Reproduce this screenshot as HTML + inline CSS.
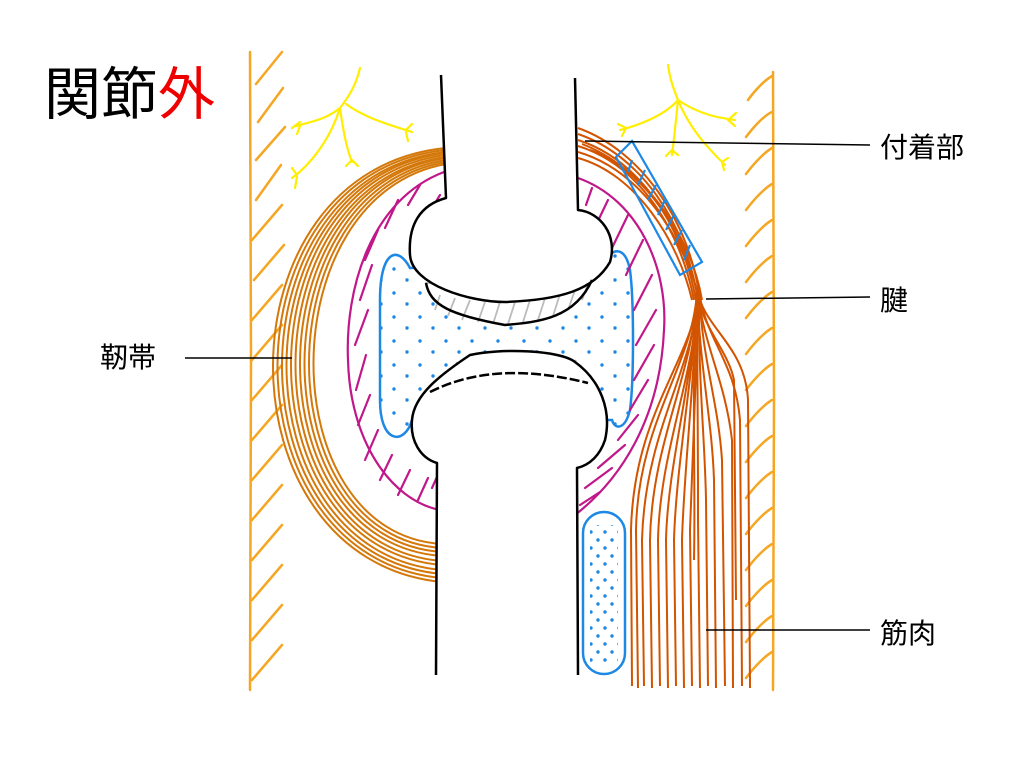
<!DOCTYPE html>
<html><head><meta charset="utf-8"><style>
html,body{margin:0;padding:0;background:#fff;width:1024px;height:768px;overflow:hidden}
svg{display:block}
text{font-family:"Liberation Sans","Noto Sans CJK JP",sans-serif}
</style></head><body>
<svg width="1024" height="768" viewBox="0 0 1024 768" xmlns="http://www.w3.org/2000/svg">
<defs>
<pattern id="dots" width="26" height="24" patternUnits="userSpaceOnUse">
<circle cx="4" cy="5" r="1.7" fill="#1e88e5"/><circle cx="17" cy="16" r="1.7" fill="#1e88e5"/>
</pattern>
<pattern id="dots2" width="14" height="16" patternUnits="userSpaceOnUse">
<circle cx="3" cy="4" r="1.7" fill="#1e88e5"/><circle cx="10" cy="12" r="1.7" fill="#1e88e5"/>
</pattern>
</defs>

<text x="44" y="114" font-size="57" fill="#000">関節<tspan fill="#e00">外</tspan></text>

<!-- walls -->
<g stroke="#f5a623" stroke-width="2.5" fill="none" stroke-linecap="round">
<path d="M250 52 L251 360 L250 690"/>
<path d="M773 72 L774 400 L773 690"/>
<path d="M256 84 L282 52 M258 122 L283 88 M256 160 L285 127 M256 200 L281 165 M252 240 L282 205 M254 280 L284 245 M252 320 L282 285 M252 360 L282 325 M252 400 L282 365 M252 440 L282 405 M252 480 L282 445 M252 520 L282 485 M252 560 L282 525 M252 600 L282 565 M252 640 L282 605 M252 680 L282 645"/>
<path d="M748 100 C755 90 765 80 772 76 M746 137 C755 125 765 115 772 112 M746 174 C755 162 765 152 772 148 M746 210 C755 198 765 188 772 184 M746 246 C755 234 765 224 772 220 M746 282 C755 270 765 260 772 256 M746 318 C755 306 765 296 772 292 M746 354 C755 342 765 332 772 328 M746 390 C755 378 765 368 772 364 M746 426 C755 414 765 404 772 400 M746 462 C755 450 765 440 772 436 M746 498 C755 486 765 476 772 472 M746 534 C755 522 765 512 772 508 M746 570 C755 558 765 548 772 544 M746 606 C755 594 765 584 772 580 M746 642 C755 630 765 620 772 616 M746 678 C755 666 765 656 772 652"/>
</g>

<!-- nerves -->
<g stroke="#ffee00" stroke-width="2.2" fill="none" stroke-linecap="round">
<path d="M360 68 C356 85 350 95 340 108 M340 108 C325 120 310 122 296 126 M300 122 L292 128 M300 126 L297 134 M346 104 C365 118 390 125 412 132 M406 130 L412 124 M406 132 L408 141 M340 108 C330 140 310 165 292 178 M297 175 L292 168 M297 177 L295 188 M340 108 C343 130 347 150 352 162 M352 160 L346 166 M352 160 L358 166"/>
<path d="M668 65 C670 80 674 90 678 100 M678 100 C665 115 640 125 620 130 M626 128 L618 124 M626 128 L622 136 M678 100 C700 115 720 118 735 120 M728 120 L736 113 M728 120 L735 126 M678 100 C676 120 674 140 672 155 M672 150 L666 156 M672 150 L678 155 M678 100 C690 130 710 150 725 165 M722 162 L728 158 M722 162 L724 170"/>
</g>

<!-- ligament -->
<g stroke="#d4780a" stroke-width="2" fill="none">
<path d="M446 148 C216 170 216 560 442 582"/>
<path d="M446 150 C222 172 222 558 442 578"/>
<path d="M446 152 C228 175 228 555 442 574"/>
<path d="M446 153 C234 178 234 552 442 570"/>
<path d="M446 155 C240 180 240 549 442 565"/>
<path d="M446 157 C246 183 246 546 442 561"/>
<path d="M446 158 C252 186 252 543 442 556"/>
<path d="M446 160 C258 189 258 540 442 552"/>
<path d="M446 162 C264 192 264 537 442 548"/>
<path d="M446 164 C270 195 270 534 442 544"/>
</g>

<!-- synovial -->
<path d="M410 268 C398 245 380 250 380 300 L380 400 C380 445 405 445 412 420 L612 420 C615 430 625 430 630 410 C634 380 634 300 630 270 C625 245 612 248 604 262 Z" fill="#fff" stroke="#1e88e5" stroke-width="2.5"/>
<path d="M410 268 C398 245 380 250 380 300 L380 400 C380 445 405 445 412 420 L612 420 C615 430 625 430 630 410 C634 380 634 300 630 270 C625 245 612 248 604 262 Z" fill="url(#dots)"/>

<!-- capsules -->
<g stroke="#c0188a" stroke-width="2.2" fill="none" stroke-linecap="round">
<path d="M444 172 C370 200 345 290 348 360 C350 440 390 500 440 510"/>
<path d="M578 178 C640 200 668 270 664 330 C660 420 620 480 575 515"/>
<path d="M420 185 L408 205 M398 200 L385 228 M378 230 L365 260 M372 265 L360 300 M368 310 L355 345 M366 355 L356 390 M370 395 L358 425 M378 430 L365 460 M392 455 L380 480 M410 470 L398 495 M428 478 L418 500 M440 470 L432 488 M440 195 L428 215"/>
<path d="M592 188 L586 205 M608 200 L596 225 M628 215 L612 248 M643 240 L626 275 M652 275 L634 310 M656 310 L636 345 M654 345 L634 380 M648 380 L630 410 M638 415 L618 440 M625 445 L598 468 M612 468 L585 488 M600 492 L580 505"/>
</g>

<!-- cartilage -->
<g stroke="#bbb" stroke-width="1.8" fill="none">
<path d="M426 283 C430 305 450 315 505 325 C540 322 575 318 592 280 Z" fill="#fff"/>
<path d="M440 295 L435 310 M455 298 L448 316 M470 300 L462 320 M485 302 L478 322 M500 302 L493 324 M515 302 L508 324 M530 300 L523 322 M545 298 L538 320 M560 294 L553 316 M575 290 L568 310 M588 284 L582 300"/>
<path d="M432 388 C470 350 520 348 590 385 C560 372 520 368 432 388 Z" fill="#fff"/>
<path d="M450 378 L457 362 M465 372 L472 356 M480 368 L487 352 M495 365 L502 350 M510 364 L517 350 M525 364 L532 350 M540 365 L547 352 M555 367 L562 355 M570 372 L576 360"/>
</g>

<!-- bones -->
<g stroke="#000" stroke-width="2.5" fill="#fff" stroke-linejoin="round">
<path d="M441 75 L446 198 C420 205 408 225 410 255 C412 285 470 302 505 302 C560 300 594 290 610 262 C618 235 600 212 578 210 L575 78" />
<path d="M426 283 C430 305 450 315 505 325 C540 322 575 318 592 280" fill="none"/>
<path d="M436 675 L437 463 C420 458 410 440 412 420 C414 395 440 375 470 355 C500 348 560 350 575 362 C600 380 612 410 605 440 C600 455 590 465 577 468 L578 675"/>
<path d="M430 392 C470 372 520 366 588 383" fill="none" stroke-dasharray="10 3"/>
</g>

<!-- tendon -->
<g stroke="#d35400" stroke-width="2" fill="none">
<path d="M578 128 C640 150 690 220 700 300"/>
<path d="M578 134 C640 155 686 222 698 300"/>
<path d="M578 140 C640 160 682 225 696 300"/>
<path d="M578 146 C640 165 680 230 694 300"/>
<path d="M578 152 C640 170 682 235 700 300"/>
<path d="M578 158 C636 174 678 240 692 300"/>
<path d="M582 144 C640 166 690 230 702 300"/>
<path d="M590 150 C645 170 688 235 698 300"/>
<path d="M697 290 C705 330 745 345 748 400 L750 688"/>
<path d="M699 290 C705 340 735 360 740 420 L742 686"/>
<path d="M697 290 C705 350 725 380 732 440 L733 688"/>
<path d="M699 290 C702 360 718 400 722 460 L725 686"/>
<path d="M697 290 C700 370 712 420 714 480 L716 688"/>
<path d="M699 290 C698 380 705 440 706 500 L708 686"/>
<path d="M697 290 C698 390 698 450 698 520 L700 688"/>
<path d="M699 290 C696 390 692 460 690 530 L692 686"/>
<path d="M697 290 C694 390 684 470 682 540 L684 688"/>
<path d="M699 290 C692 380 676 470 674 540 L676 686"/>
<path d="M697 290 C694 380 668 460 666 540 L668 688"/>
<path d="M699 290 C694 380 660 450 658 540 L660 686"/>
<path d="M697 290 C694 375 652 440 650 540 L652 688"/>
<path d="M699 290 C694 370 645 430 642 540 L644 686"/>
<path d="M697 290 C694 365 638 420 636 530 L638 688"/>
<path d="M699 290 C694 360 634 410 631 530 L632 686"/>
<path d="M697 290 C700 325 728 350 734 380 L736 600"/>
<path d="M699 290 C690 380 696 460 694 560"/>
</g>

<!-- bursa -->
<g stroke="#1e88e5" stroke-width="2.2" fill="none">
<path d="M616 157 L632 141 L702 262 L680 275 Z"/>
<path d="M632 160 L628 172 M645 170 L638 185 M656 185 L648 200 M665 200 L658 215 M674 215 L666 230 M682 230 L674 245 M690 245 L684 260"/>
</g>

<!-- lower bursa oval -->
<rect x="583" y="512" width="42" height="162" rx="21" fill="#fff" stroke="#1e88e5" stroke-width="2.5"/>
<rect x="590" y="525" width="28" height="138" fill="url(#dots2)"/>

<!-- labels -->
<g stroke="#000" stroke-width="1.5">
<line x1="585" y1="141" x2="870" y2="145"/>
<line x1="706" y1="299" x2="870" y2="297"/>
<line x1="185" y1="358" x2="292" y2="358"/>
<line x1="706" y1="630" x2="870" y2="630"/>
</g>
<g font-size="28" fill="#000">
<text x="880" y="157">付着部</text>
<text x="880" y="310">腱</text>
<text x="100" y="367">靭帯</text>
<text x="880" y="643">筋肉</text>
</g>
</svg>
</body></html>
